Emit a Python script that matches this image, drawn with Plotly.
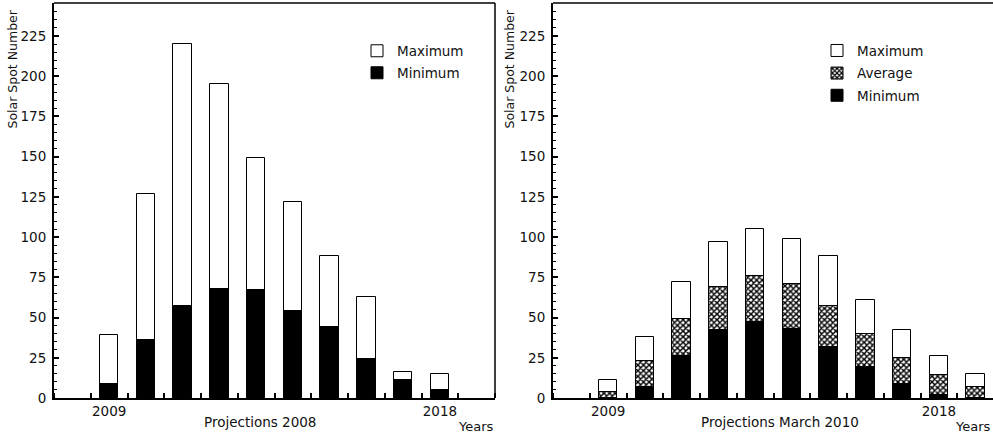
import plotly.graph_objects as go

# ---- data ----
years_2008 = [2009, 2010, 2011, 2012, 2013, 2014, 2015, 2016, 2017, 2018]
max_2008 = [39, 127, 220, 195, 149, 122, 88, 63, 16, 15]
min_2008 = [9, 36, 57, 68, 67, 54, 44, 24, 11, 5]

years_2010 = [2009, 2010, 2011, 2012, 2013, 2014, 2015, 2016, 2017, 2018, 2019]
max_2010 = [11, 38, 72, 97, 105, 99, 88, 61, 42, 26, 15]
avg_2010 = [4, 23, 49, 69, 76, 71, 57, 40, 25, 14, 7]
min_2010 = [0, 7, 26, 42, 47, 43, 32, 19, 9, 2, 0]

x_tick_vals = [2009, 2018]
x_tick_text = ["2009", "2018"]
y_tick_vals = [0, 25, 50, 75, 100, 125, 150, 175, 200, 225]

W, H = 993, 434
FONT = "DejaVu Sans"
TXT = "#111"

fig = go.Figure()

BW = 0.5
# left panel
fig.add_trace(go.Bar(x=years_2008, y=max_2008, width=BW, name="Maximum",
                     marker=dict(color="white", line=dict(color="black", width=1)),
                     xaxis="x", yaxis="y", legend="legend"))
fig.add_trace(go.Bar(x=years_2008, y=min_2008, width=BW, name="Minimum",
                     marker=dict(color="black", line=dict(color="black", width=1)),
                     xaxis="x", yaxis="y", legend="legend2"))
# right panel
fig.add_trace(go.Bar(x=years_2010, y=max_2010, width=BW, name="Maximum",
                     marker=dict(color="white", line=dict(color="black", width=1)),
                     xaxis="x2", yaxis="y2", legend="legend3"))
fig.add_trace(go.Bar(x=years_2010, y=avg_2010, width=BW, name="Average",
                     marker=dict(color="white", line=dict(color="black", width=1),
                                 pattern=dict(shape="x", size=4, solidity=0.6,
                                              fgcolor="black", bgcolor="white",
                                              fillmode="replace")),
                     xaxis="x2", yaxis="y2", legend="legend4"))
fig.add_trace(go.Bar(x=years_2010, y=min_2010, width=BW, name="Minimum",
                     marker=dict(color="black", line=dict(color="black", width=1)),
                     xaxis="x2", yaxis="y2", legend="legend5"))

PPY = 36.75  # pixels per year
L_DOM = [54 / W, 495 / W]
R_DOM = [553 / W, 1.0]
left_range = [2007.5, 2007.5 + (L_DOM[1] - L_DOM[0]) * W / PPY]
right_range = [2007.5, 2007.5 + (R_DOM[1] - R_DOM[0]) * W / PPY]

def xaxis(dom, rng, anchor):
    return dict(domain=dom, range=rng, anchor=anchor, showgrid=False, zeroline=False,
                showline=True, linecolor="black", linewidth=2,
                tickvals=x_tick_vals, ticktext=x_tick_text, ticks="",
                tickfont=dict(family=FONT, size=13.5, color=TXT),
                minor=dict(ticks="inside", tick0=2008.5, dtick=1, ticklen=5,
                           tickwidth=1.5, tickcolor="black", showgrid=False))

def yaxis(anchor):
    return dict(range=[0, 245.5], anchor=anchor, showgrid=False, zeroline=False,
                showline=True, linecolor="black", linewidth=2,
                tickvals=y_tick_vals, ticks="inside", ticklen=5, tickwidth=1.5,
                tickcolor="black", ticklabelstandoff=3,
                tickfont=dict(family=FONT, size=13.5, color=TXT),
                minor=dict(ticks="inside", tick0=0, dtick=5, ticklen=3,
                           tickwidth=1, tickcolor="black", showgrid=False))

def ypaper(py):
    return (398 - py) / 395.0

def leg(xpx, ypx):
    return dict(x=xpx / W, y=ypaper(ypx), xanchor="left", yanchor="middle",
                bgcolor="rgba(0,0,0,0)", borderwidth=0,
                font=dict(family=FONT, size=13.5, color=TXT))

fig.update_layout(
    width=W, height=H,
    margin=dict(l=0, r=0, t=3, b=36),
    paper_bgcolor="white", plot_bgcolor="white",
    barmode="overlay", bargap=0,
    xaxis=xaxis(L_DOM, left_range, "y"),
    yaxis=yaxis("x"),
    xaxis2=xaxis(R_DOM, right_range, "y2"),
    yaxis2=yaxis("x2"),
    legend=leg(357, 51),
    legend2=leg(357, 73),
    legend3=leg(817, 50.7),
    legend4=leg(817, 73.3),
    legend5=leg(817, 95.5),
    showlegend=True,
)

shapes = [
    # top and right frame lines of the left panel
    dict(type="line", xref="x domain", yref="y domain", x0=0, x1=1, y0=1, y1=1,
         line=dict(color="black", width=1.5)),
    dict(type="line", xref="x domain", yref="y domain", x0=1, x1=1, y0=0, y1=1,
         line=dict(color="black", width=1.5)),
    # top frame line of the right panel
    dict(type="line", xref="x2 domain", yref="y2 domain", x0=0, x1=1, y0=1, y1=1,
         line=dict(color="black", width=1.5)),
]
fig.update_layout(shapes=shapes)

ann = []
for xc, txt in [(12, "Solar Spot Number"), (509, "Solar Spot Number")]:
    ann.append(dict(text=txt, x=xc / W, y=ypaper(8), xref="paper", yref="paper",
                    xanchor="center", yanchor="top", textangle=-90, showarrow=False,
                    font=dict(family=FONT, size=12.5, color=TXT)))
for xc, txt in [(259.5, "Projections 2008"), (780, "Projections March 2010")]:
    ann.append(dict(text=txt, x=xc / W, y=ypaper(422), xref="paper", yref="paper",
                    xanchor="center", yanchor="middle", showarrow=False,
                    font=dict(family=FONT, size=13.5, color=TXT)))
for xr in [496, 993]:
    ann.append(dict(text="Years", x=xr / W, y=ypaper(426.5), xref="paper", yref="paper",
                    xanchor="right", yanchor="middle", showarrow=False,
                    font=dict(family=FONT, size=13, color=TXT)))
fig.update_layout(annotations=ann)

fig.write_html("out.html")
